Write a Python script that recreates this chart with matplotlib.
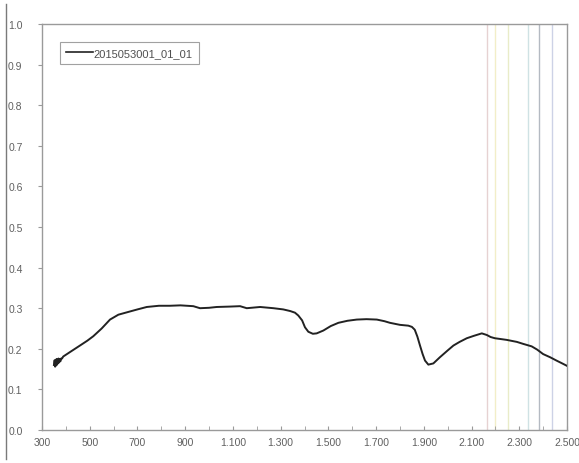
import matplotlib
matplotlib.use("Agg")
import matplotlib.pyplot as plt
from matplotlib.lines import Line2D
from matplotlib.ticker import FixedLocator, FuncFormatter

# Reflectance spectrum of sample 2015053001_01_01
wavelength = [350, 353, 355, 357, 359, 361, 363, 365, 367, 369, 371, 374, 377, 380, 384,
              389, 420, 459, 490, 515, 550, 585, 620, 669, 700, 739, 790, 836, 880, 934,
              962, 1000, 1032, 1088, 1130, 1158, 1214, 1270, 1311, 1340, 1360, 1374, 1390,
              1402, 1416, 1435, 1451, 1479, 1510, 1542, 1580, 1619, 1660, 1703, 1735, 1758,
              1800, 1835, 1850, 1862, 1873, 1884, 1895, 1905, 1919, 1940, 1967, 2000, 2024,
              2050, 2080, 2110, 2143, 2164, 2180, 2198, 2247, 2290, 2317, 2352, 2375, 2400,
              2430, 2456, 2480, 2500]
reflectance = [0.160, 0.172, 0.156, 0.170, 0.159, 0.175, 0.161, 0.171, 0.164, 0.176, 0.166,
               0.174, 0.169, 0.176, 0.176, 0.181, 0.193, 0.208, 0.220, 0.231, 0.250, 0.272,
               0.284, 0.292, 0.297, 0.303, 0.306, 0.306, 0.307, 0.305, 0.300, 0.301, 0.303,
               0.304, 0.305, 0.300, 0.303, 0.300, 0.297, 0.293, 0.289, 0.282, 0.270, 0.253,
               0.242, 0.237, 0.238, 0.245, 0.256, 0.264, 0.269, 0.272, 0.273, 0.272, 0.268,
               0.264, 0.259, 0.257, 0.254, 0.247, 0.230, 0.208, 0.187, 0.171, 0.161, 0.164,
               0.179, 0.196, 0.208, 0.217, 0.226, 0.232, 0.238, 0.234, 0.229, 0.226, 0.222,
               0.217, 0.212, 0.206, 0.198, 0.187, 0.179, 0.171, 0.164, 0.158]

# Absorption band markers
band_positions = [2163, 2198, 2251, 2335, 2383, 2439]
band_colors = ["#e6d2d2", "#f2eec8", "#e9ecc8", "#cfe2e4", "#b4bac2", "#cdd2e6"]

x_ticks = [300, 500, 700, 900, 1100, 1300, 1500, 1700, 1900, 2100, 2300, 2500]
y_ticks = [0.0, 0.1, 0.2, 0.3, 0.4, 0.5, 0.6, 0.7, 0.8, 0.9, 1.0]

plt.rcParams["font.family"] = ["Liberation Sans", "DejaVu Sans"]

fig = plt.figure(figsize=(5.79, 4.64), dpi=100)
ax = fig.add_axes([42 / 579, 33 / 464, 525 / 579, 406 / 464])

for pos, col in zip(band_positions, band_colors):
    ax.axvline(pos, color=col, lw=1.0, zorder=1)

ax.plot(wavelength, reflectance, color="#222222", lw=1.4, zorder=3,
        solid_joinstyle="round", label="2015053001_01_01")

ax.set_xlim(300, 2500)
ax.set_ylim(0, 1.0)
ax.xaxis.set_major_locator(FixedLocator(x_ticks))
ax.xaxis.set_minor_locator(FixedLocator([v + 100 for v in x_ticks[:-1]]))
ax.yaxis.set_major_locator(FixedLocator(y_ticks))
ax.xaxis.set_major_formatter(FuncFormatter(lambda v, p: f"{int(v):,}".replace(",", ".")))
ax.yaxis.set_major_formatter(FuncFormatter(lambda v, p: f"{v:.1f}"))

for s in ax.spines.values():
    s.set_color("#9a9a9a")
    s.set_linewidth(1.0)

ax.tick_params(axis="x", which="both", direction="in", length=3, color="#9a9a9a",
               labelsize=7.5, labelcolor="#606060", pad=5)
ax.tick_params(axis="y", direction="out", length=3, color="#9a9a9a",
               labelsize=7.5, labelcolor="#606060", pad=11)

leg = ax.legend(loc="upper left", bbox_to_anchor=(0.034, 0.956), borderaxespad=0,
                fontsize=8, frameon=True, fancybox=False, handlelength=2.4,
                handletextpad=0.1, borderpad=0.55, labelcolor="#505050")
leg.get_frame().set_edgecolor("#8a8a8a")
leg.get_frame().set_linewidth(0.8)
for h in leg.legend_handles:
    h.set_linewidth(1.2)

# Left frame line of the figure
fig.add_artist(Line2D([6 / 579, 6 / 579], [4 / 464, 459 / 464], color="#7a7a7a", lw=1.0))

fig.savefig("out.png", dpi=100)
